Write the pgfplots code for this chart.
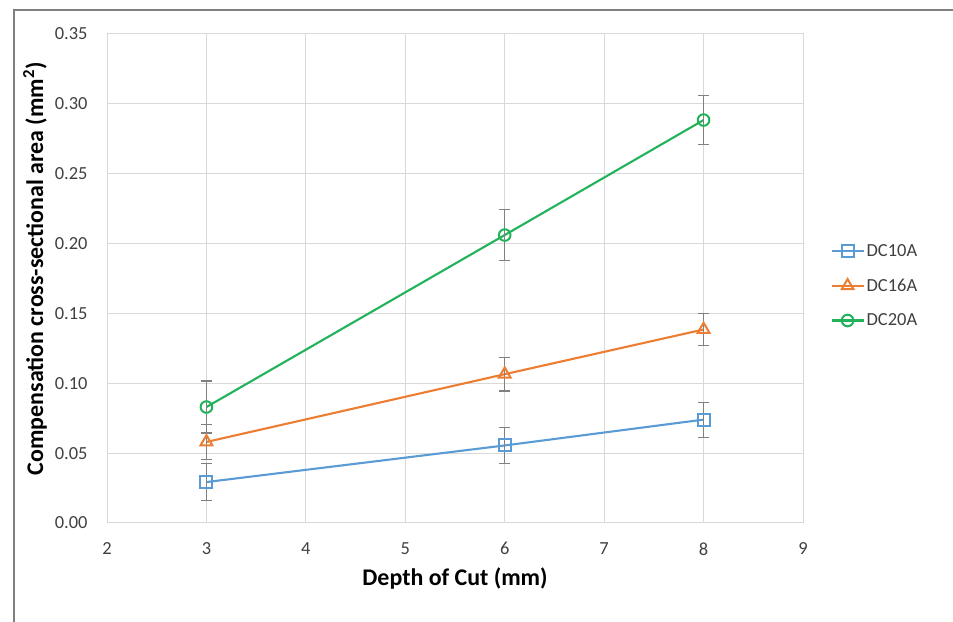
\documentclass[border=0pt]{standalone}
\usepackage{pgfplots}
\pgfplotsset{compat=1.18}
\usepackage{fontspec}
\setmainfont{Carlito}
\definecolor{cblue}{HTML}{5B9BD5}
\definecolor{corange}{HTML}{ED7D31}
\definecolor{cgreen}{HTML}{21B25A}
\definecolor{cgrid}{HTML}{D9D9D9}
\definecolor{cerr}{HTML}{808080}
\definecolor{ctext}{HTML}{404040}
\begin{document}
\begin{tikzpicture}[x=1bp,y=1bp]
\useasboundingbox (0,0) rectangle (953,622);
\draw[cerr, line width=1.6bp] (14,0) -- (14,612) -- (953,612);
\begin{axis}[
  at={(107bp,99bp)}, anchor=south west,
  scale only axis, width=696bp, height=489bp,
  xmin=2, xmax=9, ymin=0, ymax=0.35,
  xtick={2,3,4,5,6,7,8,9},
  ytick={0,0.05,0.10,0.15,0.20,0.25,0.30,0.35},
  yticklabel style={/pgf/number format/fixed, /pgf/number format/fixed zerofill, /pgf/number format/precision=2, xshift=-16bp},
  xticklabel style={yshift=-16bp},
  /pgf/number format/assume math mode=true,
  tick label style={font=\fontsize{18.5}{20}\selectfont, text=ctext},
  major tick length=0pt,
  grid=major,
  grid style={cgrid, line width=1bp},
  axis line style={cgrid, line width=1bp},
  xlabel={\textbf{Depth of Cut (mm)}},
  ylabel={\textbf{Compensation cross-sectional area (mm\textsuperscript{2})}},
  label style={font=\fontsize{24}{26}\selectfont, text=black},
  xlabel style={at={(axis description cs:0.5,-0.1145)}, anchor=center},
  ylabel style={at={(axis description cs:-0.1034,0.52)}, anchor=center},
  legend style={at={(axis description cs:1.035,0.485)}, anchor=west, draw=none, fill=none,
    font=\fontsize{18.5}{20}\selectfont, text=ctext, row sep=17bp},
  legend cell align=left,
  legend image code/.code={\draw[mark repeat=2,mark phase=2] plot coordinates {(0bp,0bp)(16bp,0bp)(32bp,0bp)};},
  every axis plot/.append style={line width=2.1bp},
  error bars/error bar style={cerr, line width=1.1bp},
  error bars/error mark options={rotate=90, mark size=5.5bp, cerr, line width=1.1bp},
]
\addplot[cblue, mark=square, mark size=6bp, mark options={fill=white, line width=2bp},
  error bars/.cd, y dir=both, y explicit]
  coordinates {(3,0.0293) +- (0,0.013) (6,0.0555) +- (0,0.013) (8,0.0740) +- (0,0.0125)};
\addlegendentry{DC10A}
\addplot[corange, mark=triangle, mark size=6.8bp, mark options={fill=white, line width=2bp},
  error bars/.cd, y dir=both, y explicit]
  coordinates {(3,0.0580) +- (0,0.0125) (6,0.1065) +- (0,0.012) (8,0.1385) +- (0,0.0115)};
\addlegendentry{DC16A}
\addplot[cgreen, mark=o, mark size=5.8bp, mark options={fill=white, line width=2bp},
  error bars/.cd, y dir=both, y explicit]
  coordinates {(3,0.0830) +- (0,0.0186) (6,0.2061) +- (0,0.0183) (8,0.2884) +- (0,0.0175)};
\addlegendentry{DC20A}
\end{axis}
\end{tikzpicture}
\end{document}
